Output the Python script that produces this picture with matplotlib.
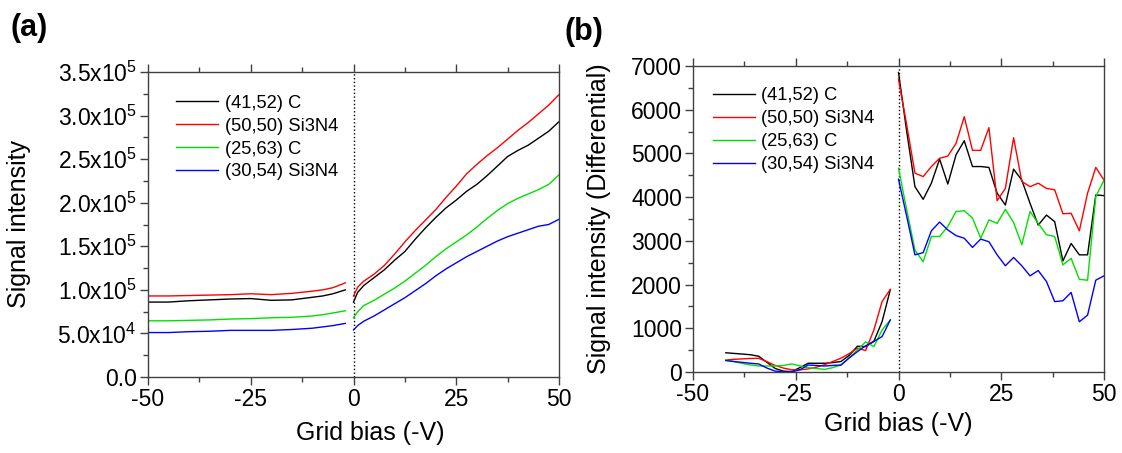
import matplotlib
matplotlib.use("Agg")
import matplotlib.pyplot as plt
from matplotlib.ticker import MultipleLocator, FixedLocator, FixedFormatter

plt.rcParams['font.family'] = ['Liberation Sans', 'DejaVu Sans']
plt.rcParams['mathtext.fontset'] = 'custom'
plt.rcParams['mathtext.rm'] = 'Liberation Sans'
plt.rcParams['mathtext.it'] = 'Liberation Sans:italic'
plt.rcParams['mathtext.bf'] = 'Liberation Sans:bold'
plt.rcParams['axes.unicode_minus'] = False

labels = ['(41,52) C', '(50,50) Si3N4', '(25,63) C', '(30,54) Si3N4']
colors = ['#000000', '#ff0000', '#00e000', '#0000ff']

# ---- Panel (a) data (signal intensity, units of 1e5) ----
a_x_left = [-50, -45, -40, -35, -30, -25, -20, -15, -10, -7.5, -5, -2]
a_black_left = [0.86, 0.86, 0.875, 0.885, 0.895, 0.90, 0.88, 0.885, 0.915, 0.93, 0.955, 1.0]
a_red_left = [0.93, 0.93, 0.935, 0.94, 0.945, 0.955, 0.945, 0.96, 0.985, 1.00, 1.025, 1.08]
a_green_left = [0.645, 0.645, 0.65, 0.655, 0.665, 0.67, 0.68, 0.685, 0.70, 0.715, 0.735, 0.76]
a_blue_left = [0.51, 0.51, 0.52, 0.525, 0.535, 0.535, 0.535, 0.545, 0.56, 0.575, 0.59, 0.615]

a_x_right = [0, 1, 2.5, 5, 7.5, 10, 12.5, 15, 17.5, 20, 22.5, 25, 27.5, 30, 32.5, 35,
             37.5, 40, 42.5, 45, 47.5, 50]
a_black_right = [0.86, 0.97, 1.05, 1.14, 1.23, 1.34, 1.44, 1.58, 1.71, 1.83, 1.94, 2.03,
                 2.13, 2.21, 2.31, 2.42, 2.53, 2.60, 2.66, 2.74, 2.82, 2.93]
a_red_right = [0.93, 1.03, 1.10, 1.18, 1.28, 1.41, 1.55, 1.68, 1.80, 1.92, 2.06, 2.19,
               2.33, 2.44, 2.54, 2.63, 2.73, 2.83, 2.92, 3.02, 3.12, 3.24]
a_green_right = [0.68, 0.75, 0.82, 0.88, 0.95, 1.02, 1.10, 1.19, 1.28, 1.38, 1.47, 1.55,
                 1.63, 1.72, 1.82, 1.91, 1.99, 2.05, 2.10, 2.15, 2.21, 2.32]
a_blue_right = [0.54, 0.59, 0.64, 0.70, 0.77, 0.84, 0.91, 0.99, 1.07, 1.16, 1.24, 1.31,
                1.38, 1.44, 1.50, 1.56, 1.61, 1.65, 1.69, 1.73, 1.75, 1.81]

a_yticks = [0, 0.5e5, 1.0e5, 1.5e5, 2.0e5, 2.5e5, 3.0e5, 3.5e5]
a_yticklabels = ['0.0', r'5.0x10$^{4}$', r'1.0x10$^{5}$', r'1.5x10$^{5}$', r'2.0x10$^{5}$',
                 r'2.5x10$^{5}$', r'3.0x10$^{5}$', r'3.5x10$^{5}$']

# ---- Panel (b) data (differential signal) ----
b_x_left = [-42, -40, -38, -36, -34, -32, -30, -28, -26, -24, -22, -20, -18, -16, -14,
            -12, -10, -8, -6, -4, -2]
b_black_left = [440, 425, 410, 395, 360, 220, 80, 20, 10, 100, 200, 200, 200, 215, 240,
                380, 590, 580, 700, 1150, 1880]
b_red_left = [275, 290, 300, 310, 313, 236, 150, 90, 50, 50, 70, 110, 165, 240, 315,
              420, 545, 490, 960, 1610, 1890]
b_green_left = [275, 235, 195, 160, 137, 137, 137, 150, 185, 140, 100, 80, 60, 100, 160,
                330, 505, 690, 580, 960, 1190]
b_blue_left = [260, 240, 220, 200, 183, 90, 20, 5, 0, 50, 160, 150, 137, 150, 160,
               320, 465, 600, 700, 810, 1190]

b_x_right = [0, 2, 4, 6, 8, 10, 12, 14, 16, 18, 20, 22, 24, 26, 28, 30, 32, 34, 36, 38,
             40, 42, 44, 46, 48, 50]
b_black_right = [6850, 5500, 4240, 3950, 4320, 4870, 4300, 4970, 5290, 4700, 4700, 4680,
                 4090, 3820, 4640, 4390, 3860, 3360, 3590, 3440, 2540, 2940, 2680, 2680,
                 4050, 4035]
b_red_right = [6700, 5650, 4550, 4470, 4700, 4890, 4940, 5230, 5840, 5070, 5070, 5590,
               3920, 4200, 5360, 4360, 4240, 4320, 4200, 4170, 3620, 3630, 3230, 4090,
               4680, 4390]
b_green_right = [4660, 3710, 2790, 2520, 3100, 3100, 3330, 3670, 3690, 3520, 3060, 3480,
                 3400, 3720, 3420, 2910, 3670, 3400, 3140, 3100, 2450, 2600, 2120, 2100,
                 4010, 4390]
b_blue_right = [4410, 3560, 2680, 2730, 3230, 3430, 3250, 3120, 3060, 2850, 3040, 2980,
                2680, 2430, 2620, 2430, 2200, 2320, 2070, 1610, 1630, 1820, 1150, 1300,
                2100, 2200]

xticks = [-50, -25, 0, 25, 50]

W, H = 1122, 453
fig = plt.figure(figsize=(W / 100, H / 100), dpi=100)

def px_axes(l, t, r, b):
    return fig.add_axes([l / W, 1 - b / H, (r - l) / W, (b - t) / H])

axA = px_axes(148, 72, 559, 377)
axB = px_axes(693, 66, 1104, 372)

spine_c = '#404040'
tick_fs = 16.5
label_fs = 18
leg_fs = 13.2

def style(ax):
    for s in ax.spines.values():
        s.set_color(spine_c)
        s.set_linewidth(1.0)
    ax.set_xlim(-50, 50)
    ax.set_xticks(xticks)
    ax.xaxis.set_minor_locator(MultipleLocator(12.5))
    ax.tick_params(axis='x', which='both', direction='out', top=True, bottom=True,
                   colors=spine_c, labelcolor='black', labelsize=tick_fs, pad=2)
    ax.tick_params(axis='y', which='both', direction='out', left=True, right=False,
                   colors=spine_c, labelcolor='black', labelsize=tick_fs, pad=2)
    ax.tick_params(which='major', length=6, width=1.0)
    ax.tick_params(which='minor', length=3.5, width=1.0)
    ax.axvline(0, color='black', ls=':', lw=1.0, zorder=1)

# Panel (a)
style(axA)
left_a = [a_black_left, a_red_left, a_green_left, a_blue_left]
right_a = [a_black_right, a_red_right, a_green_right, a_blue_right]
for yl, yr, c, lab in zip(left_a, right_a, colors, labels):
    axA.plot(a_x_left, [v * 1e5 for v in yl], color=c, lw=1.0, label=lab)
    axA.plot(a_x_right, [v * 1e5 for v in yr], color=c, lw=1.0)
axA.set_ylim(0, 3.5e5)
axA.yaxis.set_major_locator(FixedLocator(a_yticks))
axA.yaxis.set_major_formatter(FixedFormatter(a_yticklabels))
axA.yaxis.set_minor_locator(MultipleLocator(0.25e5))
axA.set_xlabel('Grid bias (-V)', fontsize=label_fs)
axA.xaxis.set_label_coords(0.54, -0.145)
axA.set_ylabel('Signal intensity', fontsize=label_fs)
axA.yaxis.set_label_coords(-0.285, 0.5)
axA.legend(loc='upper left', bbox_to_anchor=(0.068, 0.925), frameon=False,
           fontsize=leg_fs, handlelength=2.3, handletextpad=0.35, labelspacing=0.32,
           borderpad=0, borderaxespad=0)

# Panel (b)
style(axB)
left_b = [b_black_left, b_red_left, b_green_left, b_blue_left]
right_b = [b_black_right, b_red_right, b_green_right, b_blue_right]
for yl, yr, c, lab in zip(left_b, right_b, colors, labels):
    axB.plot(b_x_left, yl, color=c, lw=1.0, label=lab)
    axB.plot(b_x_right, yr, color=c, lw=1.0)
axB.set_ylim(0, 7000)
axB.yaxis.set_major_locator(MultipleLocator(1000))
axB.yaxis.set_minor_locator(MultipleLocator(500))
axB.set_xlabel('Grid bias (-V)', fontsize=label_fs, labelpad=4)
axB.set_ylabel('Signal intensity (Differential)', fontsize=label_fs)
axB.yaxis.set_label_coords(-0.2, 0.5)
axB.legend(loc='upper left', bbox_to_anchor=(0.048, 0.93), frameon=False,
           fontsize=leg_fs, handlelength=2.3, handletextpad=0.35, labelspacing=0.32,
           borderpad=0, borderaxespad=0)

fig.text(10 / W, 1 - 36 / H, '(a)', fontsize=22, fontweight='bold', ha='left', va='baseline')
fig.text(565 / W, 1 - 40 / H, '(b)', fontsize=22, fontweight='bold', ha='left', va='baseline')

fig.savefig('out.png', dpi=100)
